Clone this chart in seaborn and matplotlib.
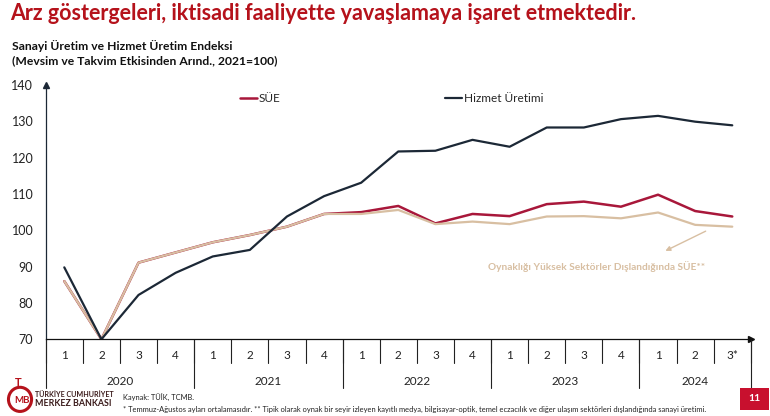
import numpy as np
import pandas as pd
import matplotlib
matplotlib.use("Agg")
import matplotlib.pyplot as plt
import seaborn as sns
from matplotlib import transforms
from matplotlib.patches import Rectangle, Ellipse

sns.set_style("white")
plt.rcParams["font.family"] = ["Lato", "DejaVu Sans"]

# quarterly index values (2021=100)
quarters = ["1", "2", "3", "4"] * 4 + ["1", "2", "3*"]
years = ["2020", "2021", "2022", "2023", "2024"]
year_len = [4, 4, 4, 4, 3]
sue = [86.0, 70.0, 91.1, 93.9, 96.7, 98.7, 101.0, 104.5, 105.0, 106.7,
       101.9, 104.5, 103.9, 107.2, 107.9, 106.5, 109.8, 105.3, 103.8]
sue_ex = [86.0, 70.0, 91.1, 93.9, 96.7, 98.7, 101.0, 104.5, 104.5, 105.6,
          101.7, 102.4, 101.7, 103.8, 103.9, 103.3, 104.9, 101.5, 101.0]
hizmet = [89.8, 70.0, 82.2, 88.3, 92.8, 94.6, 103.8, 109.4, 113.1, 121.7,
          121.9, 124.9, 123.0, 128.3, 128.3, 130.6, 131.5, 129.9, 128.9]

df = pd.DataFrame({"x": np.arange(len(quarters)), "SÜE": sue,
                   "SÜE_ex": sue_ex, "Hizmet Üretimi": hizmet})

red = "#a8173a"
navy = "#1c2836"
tan = "#d8bfa2"
title_red = "#b5121b"

fig = plt.figure(figsize=(7.7, 4.16), dpi=100)
ax = fig.add_axes([0.0594, 0.1844, 0.9157, 0.6113])

sns.lineplot(data=df, x="x", y="SÜE", ax=ax, color=red, lw=1.8, label="SÜE")
sns.lineplot(data=df, x="x", y="SÜE_ex", ax=ax, color=tan, lw=1.6, label="_nolegend_")
sns.lineplot(data=df, x="x", y="Hizmet Üretimi", ax=ax, color=navy, lw=1.6,
             label="Hizmet Üretimi")

ax.set_xlim(-0.5, len(quarters) - 0.5)
ax.set_ylim(70, 140)
ax.set_yticks(range(70, 141, 10))
ax.set_xticks([])
ax.set_xlabel("")
ax.set_ylabel("")
ax.tick_params(axis="y", length=0, pad=9, labelsize=9, labelcolor="#222222")
for s in ["top", "right"]:
    ax.spines[s].set_visible(False)
ax.spines["left"].set_color(navy)
ax.spines["bottom"].set_color("#111111")
ax.spines["left"].set_linewidth(0.9)
ax.spines["bottom"].set_linewidth(0.9)
ax.plot(0, 1, "^", color=navy, ms=5, transform=ax.transAxes, clip_on=False)
ax.plot(1, 0, ">", color="#111111", ms=5, transform=ax.transAxes, clip_on=False)

ax.legend(loc="center left", bbox_to_anchor=(0.2756, 0.945), ncol=2, frameon=False,
          handlelength=1.45, handletextpad=0.15, columnspacing=13.9,
          borderpad=0, borderaxespad=0, fontsize=8.5)

# category table under the axis
trans = transforms.blended_transform_factory(ax.transData, ax.transAxes)
n = len(quarters)
for b in np.arange(-0.5, n):
    ax.plot([b, b], [0, -0.0944], transform=trans, color="#222222", lw=0.8, clip_on=False)
for i, q in enumerate(quarters):
    ax.text(i, -0.0657, q, transform=trans, ha="center", va="center", fontsize=8.5,
            color="#222222")
edges = np.concatenate([[0], np.cumsum(year_len)]) - 0.5
for e in edges:
    ax.plot([e, e], [0, -0.1915], transform=trans, color="#222222", lw=0.8, clip_on=False)
for y, a, b in zip(years, edges[:-1], edges[1:]):
    ax.text((a + b) / 2, -0.166, y, transform=trans, ha="center", va="center",
            fontsize=8.5, color="#222222")

# annotation for the tan series
ax.annotate("", xy=(16.13, 94.0), xytext=(17.35, 100.1),
            arrowprops=dict(arrowstyle="-|>", color=tan, lw=1.0, mutation_scale=7))
ax.text(14.33, 89.9, "Oynaklığı Yüksek Sektörler Dışlandığında SÜE**", ha="center",
        va="center", fontsize=7.3, fontweight="bold", color=tan)

# titles
fig.text(0.013, 0.967, "Arz göstergeleri, iktisadi faaliyette yavaşlamaya işaret etmektedir.",
         fontsize=15.5, fontweight="bold", color=title_red, ha="left", va="center",
         family=["Liberation Sans Narrow", "Lato", "DejaVu Sans"])
fig.text(0.015, 0.889, "Sanayi Üretim ve Hizmet Üretim Endeksi", fontsize=8.7,
         fontweight="bold", color="#111111", ha="left", va="center")
fig.text(0.015, 0.855, "(Mevsim ve Takvim Etkisinden Arınd., 2021=100)", fontsize=8.7,
         fontweight="bold", color="#111111", ha="left", va="center")

# footer
fig.add_artist(Ellipse((0.026, 0.040), 0.030, 0.058, transform=fig.transFigure,
                       fill=False, ec=title_red, lw=2.2))
fig.text(0.028, 0.038, "MB", fontsize=7, fontweight="bold", color=title_red,
         ha="center", va="center")
fig.text(0.024, 0.080, "T", fontsize=8, fontweight="bold", color=title_red,
         ha="center", va="center")
fig.text(0.046, 0.052, "TÜRKİYE CUMHURİYET", fontsize=5.1, fontweight="bold",
         color="#3a1a1a", ha="left", va="center")
fig.text(0.046, 0.030, "MERKEZ BANKASI", fontsize=6.4, fontweight="bold",
         color="#3a1a1a", ha="left", va="center")
fig.text(0.160, 0.044, "Kaynak: TÜİK, TCMB.", fontsize=5.4, color="#222222",
         ha="left", va="center")
fig.text(0.160, 0.016,
         "* Temmuz-Ağustos ayları ortalamasıdır. ** Tipik olarak oynak bir seyir izleyen kayıtlı medya, "
         "bilgisayar-optik, temel eczacılık ve diğer ulaşım sektörleri dışlandığında sanayi üretimi.",
         fontsize=5.4, color="#222222", ha="left", va="center")
fig.add_artist(Rectangle((0.961, 0.0144), 0.0377, 0.0529, transform=fig.transFigure,
                         fc="#c8102e", ec="none"))
fig.text(0.9798, 0.041, "11", fontsize=7.5, fontweight="bold", color="white",
         ha="center", va="center")

fig.savefig("out.png", dpi=100)
